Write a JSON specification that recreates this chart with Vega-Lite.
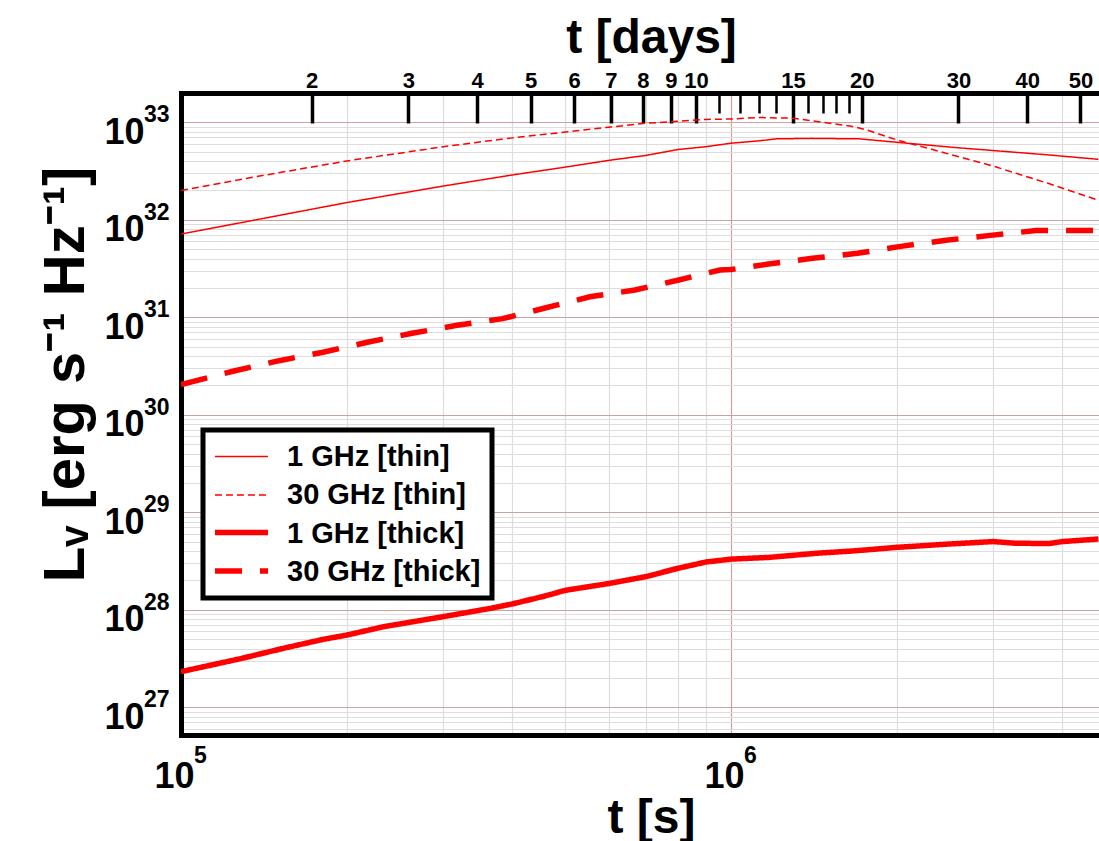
{
  "$schema": "https://vega.github.io/schema/vega-lite/v6.json",
  "width": 918,
  "height": 642,
  "autosize": {"type": "none"},
  "padding": {"left": 181, "top": 93, "right": 0, "bottom": 106},
  "background": "white",
  "config": {
    "view": {"stroke": null},
    "font": "Liberation Sans",
    "axis": {"labelFont": "Liberation Sans", "labelFontWeight": "bold", "labelColor": "black", "titleFont": "Liberation Sans", "titleFontWeight": "bold", "titleColor": "black"},
    "legend": {"strokeWidth": 5}
  },
  "resolve": {"axis": {"x": "independent", "y": "independent"}, "scale": {"color": "independent", "strokeDash": "independent"}},
  "datasets": {
    "thin": [
      {"t": 100000, "L": 7.14e31, "s": "1 GHz [thin]"},
      {"t": 200000, "L": 1.50e32, "s": "1 GHz [thin]"},
      {"t": 300000, "L": 2.22e32, "s": "1 GHz [thin]"},
      {"t": 400000, "L": 2.88e32, "s": "1 GHz [thin]"},
      {"t": 500000, "L": 3.47e32, "s": "1 GHz [thin]"},
      {"t": 600000, "L": 4.07e32, "s": "1 GHz [thin]"},
      {"t": 700000, "L": 4.57e32, "s": "1 GHz [thin]"},
      {"t": 800000, "L": 5.25e32, "s": "1 GHz [thin]"},
      {"t": 900000, "L": 5.62e32, "s": "1 GHz [thin]"},
      {"t": 1000000, "L": 6.10e32, "s": "1 GHz [thin]"},
      {"t": 1127000, "L": 6.46e32, "s": "1 GHz [thin]"},
      {"t": 1208000, "L": 6.76e32, "s": "1 GHz [thin]"},
      {"t": 1400000, "L": 6.84e32, "s": "1 GHz [thin]"},
      {"t": 1712000, "L": 6.76e32, "s": "1 GHz [thin]"},
      {"t": 2000000, "L": 6.24e32, "s": "1 GHz [thin]"},
      {"t": 2567000, "L": 5.50e32, "s": "1 GHz [thin]"},
      {"t": 3000000, "L": 5.13e32, "s": "1 GHz [thin]"},
      {"t": 3793000, "L": 4.62e32, "s": "1 GHz [thin]"},
      {"t": 4656000, "L": 4.17e32, "s": "1 GHz [thin]"},
      {"t": 100000, "L": 2.00e32, "s": "30 GHz [thin]"},
      {"t": 138900, "L": 2.81e32, "s": "30 GHz [thin]"},
      {"t": 200000, "L": 4.01e32, "s": "30 GHz [thin]"},
      {"t": 300000, "L": 5.62e32, "s": "30 GHz [thin]"},
      {"t": 400000, "L": 6.92e32, "s": "30 GHz [thin]"},
      {"t": 500000, "L": 7.94e32, "s": "30 GHz [thin]"},
      {"t": 600000, "L": 8.91e32, "s": "30 GHz [thin]"},
      {"t": 700000, "L": 9.77e32, "s": "30 GHz [thin]"},
      {"t": 800000, "L": 1.023e33, "s": "30 GHz [thin]"},
      {"t": 900000, "L": 1.07e33, "s": "30 GHz [thin]"},
      {"t": 1000000, "L": 1.08e33, "s": "30 GHz [thin]"},
      {"t": 1127000, "L": 1.12e33, "s": "30 GHz [thin]"},
      {"t": 1300000, "L": 1.10e33, "s": "30 GHz [thin]"},
      {"t": 1470000, "L": 1.00e33, "s": "30 GHz [thin]"},
      {"t": 1654000, "L": 9.12e32, "s": "30 GHz [thin]"},
      {"t": 1760000, "L": 8.40e32, "s": "30 GHz [thin]"},
      {"t": 2000000, "L": 6.61e32, "s": "30 GHz [thin]"},
      {"t": 2325000, "L": 5.25e32, "s": "30 GHz [thin]"},
      {"t": 3000000, "L": 3.55e32, "s": "30 GHz [thin]"},
      {"t": 3793000, "L": 2.34e32, "s": "30 GHz [thin]"},
      {"t": 4656000, "L": 1.585e32, "s": "30 GHz [thin]"}
    ],
    "thick": [
      {"t": 100000, "L": 2.32e27, "s": "1 GHz [thick]"},
      {"t": 128500, "L": 3.16e27, "s": "1 GHz [thick]"},
      {"t": 153600, "L": 4.03e27, "s": "1 GHz [thick]"},
      {"t": 181400, "L": 4.98e27, "s": "1 GHz [thick]"},
      {"t": 200000, "L": 5.50e27, "s": "1 GHz [thick]"},
      {"t": 233500, "L": 6.71e27, "s": "1 GHz [thick]"},
      {"t": 300000, "L": 8.51e27, "s": "1 GHz [thick]"},
      {"t": 365300, "L": 1.035e28, "s": "1 GHz [thick]"},
      {"t": 400000, "L": 1.148e28, "s": "1 GHz [thick]"},
      {"t": 458000, "L": 1.38e28, "s": "1 GHz [thick]"},
      {"t": 500000, "L": 1.585e28, "s": "1 GHz [thick]"},
      {"t": 600000, "L": 1.862e28, "s": "1 GHz [thick]"},
      {"t": 700000, "L": 2.188e28, "s": "1 GHz [thick]"},
      {"t": 800000, "L": 2.661e28, "s": "1 GHz [thick]"},
      {"t": 900000, "L": 3.09e28, "s": "1 GHz [thick]"},
      {"t": 1000000, "L": 3.31e28, "s": "1 GHz [thick]"},
      {"t": 1175000, "L": 3.45e28, "s": "1 GHz [thick]"},
      {"t": 1429000, "L": 3.80e28, "s": "1 GHz [thick]"},
      {"t": 1663000, "L": 4.01e28, "s": "1 GHz [thick]"},
      {"t": 2000000, "L": 4.37e28, "s": "1 GHz [thick]"},
      {"t": 2495000, "L": 4.73e28, "s": "1 GHz [thick]"},
      {"t": 3000000, "L": 5.01e28, "s": "1 GHz [thick]"},
      {"t": 3300000, "L": 4.81e28, "s": "1 GHz [thick]"},
      {"t": 3793000, "L": 4.79e28, "s": "1 GHz [thick]"},
      {"t": 4005000, "L": 5.01e28, "s": "1 GHz [thick]"},
      {"t": 4656000, "L": 5.32e28, "s": "1 GHz [thick]"},
      {"t": 100000, "L": 2.04e30, "s": "30 GHz [thick]"},
      {"t": 125400, "L": 2.83e30, "s": "30 GHz [thick]"},
      {"t": 150800, "L": 3.59e30, "s": "30 GHz [thick]"},
      {"t": 181300, "L": 4.38e30, "s": "30 GHz [thick]"},
      {"t": 219300, "L": 5.58e30, "s": "30 GHz [thick]"},
      {"t": 263000, "L": 6.85e30, "s": "30 GHz [thick]"},
      {"t": 317600, "L": 8.28e30, "s": "30 GHz [thick]"},
      {"t": 384200, "L": 9.68e30, "s": "30 GHz [thick]"},
      {"t": 459000, "L": 1.245e31, "s": "30 GHz [thick]"},
      {"t": 554000, "L": 1.622e31, "s": "30 GHz [thick]"},
      {"t": 669000, "L": 1.905e31, "s": "30 GHz [thick]"},
      {"t": 804000, "L": 2.415e31, "s": "30 GHz [thick]"},
      {"t": 955000, "L": 3.055e31, "s": "30 GHz [thick]"},
      {"t": 1000000, "L": 3.09e31, "s": "30 GHz [thick]"},
      {"t": 1170000, "L": 3.52e31, "s": "30 GHz [thick]"},
      {"t": 1406000, "L": 4.03e31, "s": "30 GHz [thick]"},
      {"t": 1698000, "L": 4.53e31, "s": "30 GHz [thick]"},
      {"t": 2050000, "L": 5.37e31, "s": "30 GHz [thick]"},
      {"t": 2460000, "L": 6.17e31, "s": "30 GHz [thick]"},
      {"t": 2964000, "L": 6.92e31, "s": "30 GHz [thick]"},
      {"t": 3585000, "L": 7.76e31, "s": "30 GHz [thick]"},
      {"t": 4300000, "L": 7.76e31, "s": "30 GHz [thick]"},
      {"t": 4656000, "L": 7.76e31, "s": "30 GHz [thick]"}
    ],
    "yexp": [
      {"v": 1e27, "e": "27"}, {"v": 1e28, "e": "28"}, {"v": 1e29, "e": "29"}, {"v": 1e30, "e": "30"},
      {"v": 1e31, "e": "31"}, {"v": 1e32, "e": "32"}, {"v": 1e33, "e": "33"}
    ],
    "xexp": [{"v": 100000, "e": "5"}, {"v": 1000000, "e": "6"}]
  },
  "layer": [
    {
      "data": {"name": "thin"},
      "mark": {"type": "line", "strokeWidth": 1.5, "clip": true},
      "encoding": {
        "x": {
          "field": "t", "type": "quantitative",
          "scale": {"type": "log", "domain": [100000, 4668000], "nice": false},
          "axis": {
            "orient": "bottom",
            "values": [100000, 200000, 300000, 400000, 500000, 600000, 700000, 800000, 900000, 1000000, 2000000, 3000000, 4000000],
            "grid": true,
            "gridColor": {"condition": {"test": "abs(log(datum.value)/LN10 - round(log(datum.value)/LN10)) < 0.001", "value": "#c9a2a2"}, "value": "#dddddd"},
            "gridWidth": 1.2,
            "ticks": false,
            "domain": true, "domainColor": "black", "domainWidth": 5, "domainCap": "square",
            "labelExpr": "abs(log(datum.value)/LN10 - round(log(datum.value)/LN10)) < 0.001 ? '10' : ''",
            "labelFontSize": 36, "labelAlign": "right", "labelBaseline": "alphabetic",
            "labelPadding": 52, "labelOffset": 13, "labelFlush": false, "labelOverlap": false, "labelBound": false,
            "title": "t [s]", "titleFontSize": 48, "titleX": 470, "titleY": 97, "titleBaseline": "alphabetic", "titleAlign": "center"
          }
        },
        "y": {
          "field": "L", "type": "quantitative",
          "scale": {"type": "log", "domain": [5.2e26, 1.997e33], "nice": false},
          "axis": {
            "orient": "left",
            "values": [6e26, 7e26, 8e26, 9e26,
              1e27, 2e27, 3e27, 4e27, 5e27, 6e27, 7e27, 8e27, 9e27,
              1e28, 2e28, 3e28, 4e28, 5e28, 6e28, 7e28, 8e28, 9e28,
              1e29, 2e29, 3e29, 4e29, 5e29, 6e29, 7e29, 8e29, 9e29,
              1e30, 2e30, 3e30, 4e30, 5e30, 6e30, 7e30, 8e30, 9e30,
              1e31, 2e31, 3e31, 4e31, 5e31, 6e31, 7e31, 8e31, 9e31,
              1e32, 2e32, 3e32, 4e32, 5e32, 6e32, 7e32, 8e32, 9e32, 1e33],
            "grid": true,
            "gridColor": {"condition": {"test": "abs(log(datum.value)/LN10 - round(log(datum.value)/LN10)) < 0.001", "value": "#c9a2a2"}, "value": "#dddddd"},
            "gridWidth": 1.2,
            "ticks": false,
            "domain": true, "domainColor": "black", "domainWidth": 5, "domainCap": "square",
            "labelExpr": "abs(log(datum.value)/LN10 - round(log(datum.value)/LN10)) < 0.001 ? '10' : ''",
            "labelFontSize": 36, "labelAlign": "right", "labelBaseline": "alphabetic",
            "labelPadding": 37, "labelOffset": 21, "labelFlush": false, "labelOverlap": false, "labelBound": false,
            "title": "Lᵥ [erg s⁻¹ Hz⁻¹]", "titleFontSize": 58, "titleAngle": 270,
            "titleX": -98, "titleY": 281, "titleBaseline": "alphabetic", "titleAlign": "center"
          }
        },
        "color": {
          "field": "s", "type": "nominal",
          "scale": {"domain": ["1 GHz [thin]", "30 GHz [thin]", "1 GHz [thick]", "30 GHz [thick]"], "range": ["#ff0000", "#ff0000", "#ff0000", "#ff0000"]},
          "legend": {
            "orient": "none", "legendX": 22, "legendY": 337, "title": null, "zindex": 1,
            "symbolType": "M-1.83,0H1.83", "symbolSize": 841, "symbolOffset": 12, "symbolStrokeWidth": 1.5,
            "labelOffset": 30, "labelFontSize": 29, "labelFont": "Liberation Sans", "labelFontWeight": "bold", "labelColor": "black", "labelLimit": 600,
            "rowPadding": 7.5, "padding": 11, "strokeColor": "black", "fillColor": "white"
          }
        },
        "strokeDash": {
          "field": "s", "type": "nominal",
          "scale": {"domain": ["1 GHz [thin]", "30 GHz [thin]", "1 GHz [thick]", "30 GHz [thick]"], "range": [[1, 0], [7, 4], [1, 0], [27, 18]]},
          "legend": {
            "orient": "none", "legendX": 22, "legendY": 337, "title": null, "zindex": 1,
            "symbolType": "M-1.83,0H1.83", "symbolSize": 841, "symbolOffset": 12, "symbolStrokeWidth": 1.5,
            "labelOffset": 30, "labelFontSize": 29, "labelFont": "Liberation Sans", "labelFontWeight": "bold", "labelColor": "black", "labelLimit": 600,
            "rowPadding": 7.5, "padding": 11, "strokeColor": "black", "fillColor": "white"
          }
        }
      }
    },
    {
      "data": {"name": "thick"},
      "mark": {"type": "line", "strokeWidth": 5.5, "clip": true},
      "encoding": {
        "x": {"field": "t", "type": "quantitative", "scale": {"type": "log", "domain": [100000, 4668000], "nice": false}, "axis": null},
        "y": {"field": "L", "type": "quantitative", "scale": {"type": "log", "domain": [5.2e26, 1.997e33], "nice": false}, "axis": null},
        "color": {
          "field": "s", "type": "nominal",
          "scale": {"domain": ["1 GHz [thick]", "30 GHz [thick]"], "range": ["#ff0000", "#ff0000"]},
          "legend": {
            "orient": "none", "legendX": 22, "legendY": 413, "title": null, "zindex": 2,
            "symbolType": "M-2.12,0H2.12", "symbolSize": 625, "symbolOffset": 12, "symbolStrokeWidth": 5.5,
            "labelOffset": 30, "labelFontSize": 29, "labelFont": "Liberation Sans", "labelFontWeight": "bold", "labelColor": "black", "labelOpacity": 0, "labelLimit": 600,
            "rowPadding": 7.5, "padding": 11, "strokeColor": "transparent", "fillColor": "transparent"
          }
        },
        "strokeDash": {
          "field": "s", "type": "nominal",
          "scale": {"domain": ["1 GHz [thick]", "30 GHz [thick]"], "range": [[1, 0], [27, 18]]},
          "legend": {
            "orient": "none", "legendX": 22, "legendY": 413, "title": null, "zindex": 2,
            "symbolType": "M-2.12,0H2.12", "symbolSize": 625, "symbolOffset": 12, "symbolStrokeWidth": 5.5,
            "labelOffset": 30, "labelFontSize": 29, "labelFont": "Liberation Sans", "labelFontWeight": "bold", "labelColor": "black", "labelOpacity": 0, "labelLimit": 600,
            "rowPadding": 7.5, "padding": 11, "strokeColor": "transparent", "fillColor": "transparent"
          }
        }
      }
    },
    {
      "data": {"name": "yexp"},
      "mark": {"type": "text", "align": "left", "baseline": "alphabetic", "dx": -37, "dy": 0, "fontSize": 23, "fontWeight": "bold", "font": "Liberation Sans", "color": "black"},
      "encoding": {
        "x": {"datum": 100000, "type": "quantitative", "scale": {"type": "log", "domain": [100000, 4668000], "nice": false}, "axis": null},
        "y": {"field": "v", "type": "quantitative", "scale": {"type": "log", "domain": [5.2e26, 1.997e33], "nice": false}, "axis": null},
        "text": {"field": "e", "type": "nominal"}
      }
    },
    {
      "data": {"name": "xexp"},
      "mark": {"type": "text", "align": "left", "baseline": "alphabetic", "dx": 13, "dy": 28, "fontSize": 23, "fontWeight": "bold", "font": "Liberation Sans", "color": "black"},
      "encoding": {
        "x": {
          "field": "v", "type": "quantitative",
          "scale": {"type": "log", "domain": [100000, 4668000], "nice": false},
          "axis": {
            "orient": "top",
            "values": [172800, 259200, 345600, 432000, 518400, 604800, 691200, 777600, 864000, 950400, 1036800, 1123200, 1209600, 1296000, 1382400, 1468800, 1555200, 1641600, 1728000, 2592000, 3456000, 4320000],
            "grid": false,
            "domain": true, "domainColor": "black", "domainWidth": 5, "domainCap": "square",
            "ticks": true, "tickColor": "black",
            "tickSize": {"condition": {"test": "indexof([11,12,13,14,16,17,18,19], round(datum.value/86400)) >= 0", "value": -20}, "value": -30},
            "tickWidth": {"condition": {"test": "indexof([11,12,13,14,16,17,18,19], round(datum.value/86400)) >= 0", "value": 2.5}, "value": 3.5},
            "labelExpr": "indexof([11,12,13,14,16,17,18,19], round(datum.value/86400)) >= 0 ? '' : '' + round(datum.value/86400)",
            "labelFontSize": 22, "labelBaseline": "alphabetic", "labelPadding": 36,
            "labelOverlap": false, "labelBound": false, "labelFlush": false,
            "title": "t [days]", "titleFontSize": 48, "titleX": 470, "titleY": -41, "titleBaseline": "alphabetic", "titleAlign": "center"
          }
        },
        "y": {"datum": 5.2e26, "type": "quantitative", "scale": {"type": "log", "domain": [5.2e26, 1.997e33], "nice": false}, "axis": null},
        "text": {"field": "e", "type": "nominal"}
      }
    }
  ]
}
